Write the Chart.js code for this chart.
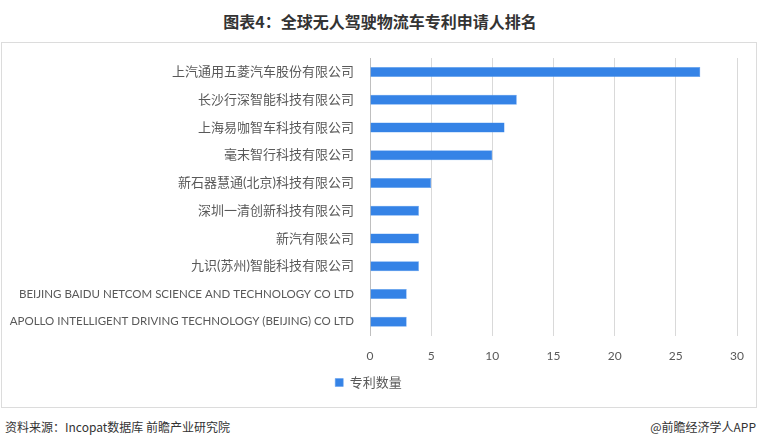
<!DOCTYPE html>
<html>
<head>
<meta charset="utf-8">
<script src="https://cdn.jsdelivr.net/npm/chart.js@4/dist/chart.umd.min.js"></script>
<style>
  html, body { margin: 0; padding: 0; background: #fff; }
  body { width: 760px; height: 447px; position: relative; overflow: hidden; font-family: 'Noto Sans CJK SC', sans-serif; }
  #title { position: absolute; left: 0; top: 9px; width: 760px; text-align: center; font-size: 16px; font-weight: bold; color: #333; }
  #box { position: absolute; left: 1px; top: 42px; width: 754px; height: 364px; border: 1px solid #dcdcdc; }
  #wrap { position: absolute; left: 0; top: 0; width: 760px; height: 414px; }
  .foot { position: absolute; top: 418px; font-size: 12px; color: #333; }
</style>
</head>
<body>
<div id="title">图表4：全球无人驾驶物流车专利申请人排名</div>
<div id="box"></div>
<div id="wrap"><canvas id="c"></canvas></div>
<div class="foot" style="left:5px">资料来源：Incopat数据库 前瞻产业研究院</div>
<div class="foot" style="right:4px">@前瞻经济学人APP</div>
<script>
  // 专利申请人排名（件）
  const companies = [
    '上汽通用五菱汽车股份有限公司',
    '长沙行深智能科技有限公司',
    '上海易咖智车科技有限公司',
    '毫末智行科技有限公司',
    '新石器慧通(北京)科技有限公司',
    '深圳一清创新科技有限公司',
    '新汽有限公司',
    '九识(苏州)智能科技有限公司',
    'BEIJING BAIDU NETCOM SCIENCE AND TECHNOLOGY CO LTD',
    'APOLLO INTELLIGENT DRIVING TECHNOLOGY (BEIJING) CO LTD'
  ];
  const patents = [27, 12, 11, 10, 5, 4, 4, 4, 3, 3];
  const xTicks = [0, 5, 10, 15, 20, 25, 30];

  const labelFont = "Lato, 'Noto Sans CJK SC', sans-serif";
  const grey = '#595959';

  // 英文名称字号略小
  function yFont(ctx) {
    const name = companies[ctx.index] || '';
    return { family: labelFont, size: /^[A-Z]/.test(name) ? 11.5 : 13 };
  }

  new Chart(document.getElementById('c'), {
    type: 'bar',
    data: {
      labels: companies,
      datasets: [{
        label: '专利数量',
        data: patents,
        backgroundColor: '#3583e6',
        borderColor: '#5a9bef',
        borderWidth: 0.5,
        barPercentage: 0.72,
        categoryPercentage: 0.5
      }]
    },
    options: {
      indexAxis: 'y',
      responsive: true,
      maintainAspectRatio: false,
      animation: false,
      layout: { padding: { left: 0, top: 58, right: 23, bottom: 15 } },
      plugins: {
        tooltip: { enabled: false },
        legend: {
          position: 'bottom',
          labels: {
            color: grey,
            font: { family: labelFont, size: 13 },
            boxWidth: 8,
            boxHeight: 8,
            padding: 0
          }
        }
      },
      scales: {
        x: {
          min: 0,
          max: 30,
          afterBuildTicks: (s) => { s.ticks = xTicks.map(v => ({ value: v })); },
          grid: { color: '#d9d9d9', drawTicks: false },
          border: { display: false },
          ticks: { color: grey, font: { family: labelFont, size: 12 }, padding: 13 }
        },
        y: {
          afterFit: (s) => { s.width = 370; },
          grid: { display: false },
          border: { color: '#bfbfbf' },
          ticks: { color: grey, font: yFont, padding: 8 }
        }
      }
    }
  });
</script>
</body>
</html>
